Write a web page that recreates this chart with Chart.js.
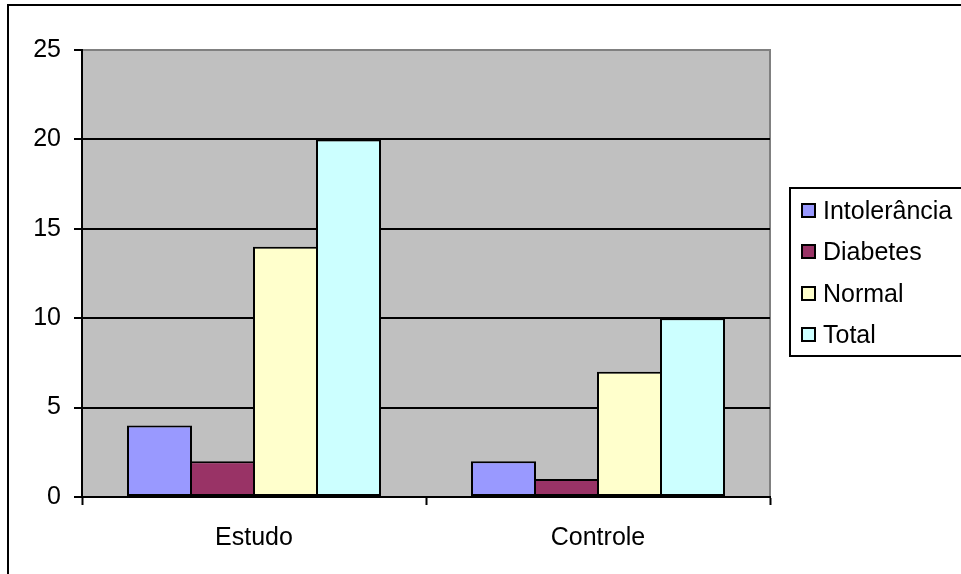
<!DOCTYPE html>
<html>
<head>
<meta charset="utf-8">
<script src="https://cdn.jsdelivr.net/npm/chart.js@4"></script>
<style>
  html, body { margin: 0; padding: 0; background: #ffffff; }
  canvas { display: block; }
</style>
</head>
<body>
<canvas id="chart" width="961" height="574"></canvas>
<script>
// Grupos e valores por categoria
const categories = ['Estudo', 'Controle'];
const seriesNames = ['Intolerância', 'Diabetes', 'Normal', 'Total'];
const intolerancia = [4, 2];
const diabetes = [2, 1];
const normal = [14, 7];
const total = [20, 10];
const yTicks = [0, 5, 10, 15, 20, 25];

const seriesColors = ['#9999FF', '#993366', '#FFFFCC', '#CCFFFF'];
const seriesValues = [intolerancia, diabetes, normal, total];

const FONT = { family: '"Liberation Sans", Arial, sans-serif', size: 25 };

// Fundo cinza da área de plotagem e moldura externa
const plotFrame = {
  id: 'plotFrame',
  beforeDraw(chart) {
    const { ctx, chartArea: a } = chart;
    ctx.save();
    ctx.fillStyle = '#ffffff';
    ctx.fillRect(0, 0, chart.width, chart.height);
    // moldura do gráfico inteiro
    ctx.strokeStyle = '#000000';
    ctx.lineWidth = 2;
    ctx.strokeRect(8, 5, chart.width + 20, chart.height + 20);
    // área de plotagem
    ctx.fillStyle = '#C0C0C0';
    ctx.fillRect(a.left, a.top, a.right - a.left, a.bottom - a.top);
    ctx.strokeStyle = '#808080';
    ctx.lineWidth = 2;
    ctx.strokeRect(a.left, a.top, a.right - a.left, a.bottom - a.top);
    ctx.restore();
  }
};

// Legenda com caixa, à direita
const boxLegend = {
  id: 'boxLegend',
  afterDraw(chart) {
    const { ctx } = chart;
    const x0 = 790, y0 = 188, w = 200, h = 168;
    ctx.save();
    ctx.fillStyle = '#ffffff';
    ctx.fillRect(x0, y0, w, h);
    ctx.strokeStyle = '#000000';
    ctx.lineWidth = 2;
    ctx.strokeRect(x0, y0, w, h);
    ctx.font = FONT.size + 'px ' + FONT.family;
    ctx.textBaseline = 'middle';
    ctx.textAlign = 'left';
    chart.data.datasets.forEach((ds, i) => {
      const cy = Math.round(211 + i * 41.3);
      ctx.fillStyle = ds.backgroundColor;
      ctx.fillRect(802, cy - 7, 13, 13);
      ctx.lineWidth = 2;
      ctx.strokeStyle = '#000000';
      ctx.strokeRect(802, cy - 7, 13, 13);
      ctx.fillStyle = '#000000';
      ctx.fillText(ds.label, 823, cy + 1);
    });
    ctx.restore();
  }
};

new Chart(document.getElementById('chart'), {
  type: 'bar',
  data: {
    labels: categories,
    datasets: seriesNames.map((name, i) => ({
      label: name,
      data: seriesValues[i],
      backgroundColor: seriesColors[i],
      borderColor: '#000000',
      borderWidth: 2,
      borderSkipped: false,
      inflateAmount: 0,
      // barras vizinhas se sobrepõem 2px para dividir a mesma borda
      categoryPercentage: 252 / 344,
      barPercentage: 65 / 63
    }))
  },
  options: {
    responsive: false,
    devicePixelRatio: 1,
    animation: false,
    layout: { padding: { left: 0, top: 50, right: 191, bottom: 0 } },
    plugins: { legend: { display: false }, tooltip: { enabled: false } },
    scales: {
      x: {
        grid: {
          offset: true,
          drawOnChartArea: false,
          drawTicks: true,
          tickLength: 8,
          tickColor: '#000000',
          tickWidth: 2
        },
        border: { color: '#000000', width: 2 },
        ticks: { color: '#000000', font: FONT, padding: 18 },
        afterFit(scale) { scale.height = 77; }
      },
      y: {
        min: 0,
        max: 25,
        afterBuildTicks(scale) { scale.ticks = yTicks.map(v => ({ value: v })); },
        grid: {
          color: (c) => (c.tick && c.tick.value === 25) ? 'rgba(0,0,0,0)' : '#000000',
          lineWidth: 2,
          drawTicks: true,
          tickLength: 8,
          tickColor: '#000000',
          tickWidth: 2
        },
        border: { color: '#000000', width: 2 },
        ticks: { color: '#000000', font: FONT, padding: 13 },
        afterFit(scale) { scale.width = 82; }
      }
    }
  },
  plugins: [plotFrame, boxLegend]
});
</script>
</body>
</html>
